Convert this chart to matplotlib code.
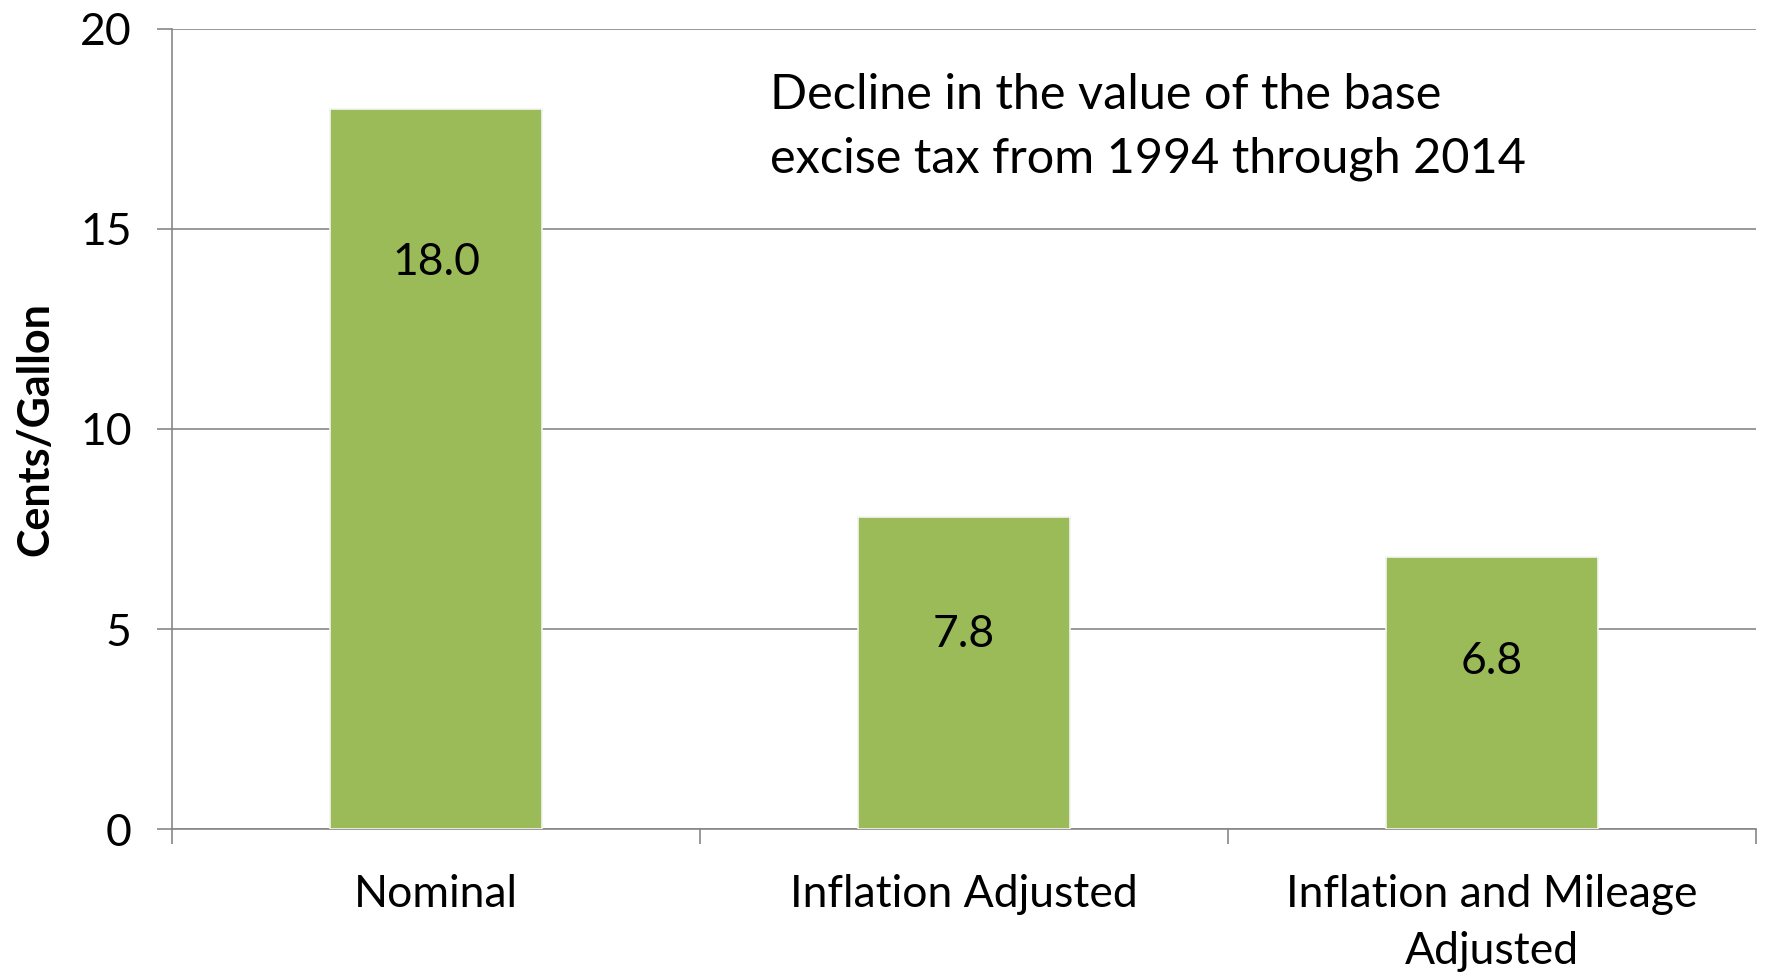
import matplotlib
matplotlib.use("Agg")
import matplotlib.pyplot as plt

categories = ["Nominal", "Inflation Adjusted", "Inflation and Mileage\nAdjusted"]
values = [18.0, 7.8, 6.8]
yticks = [0, 5, 10, 15, 20]
note = "Decline in the value of the base\nexcise tax from 1994 through 2014"

plt.rcParams["font.family"] = ["Lato", "DejaVu Sans"]

GREEN = "#9BBB59"
GRID = "#878787"
FS = 32

fig = plt.figure(figsize=(17.67, 9.72), dpi=100)
ax = fig.add_axes([0.0973, 0.147, 0.8965, 0.8235])

x = range(len(categories))
ax.bar(x, values, width=0.4, color=GREEN, edgecolor="#f4f4f4", linewidth=1.2, zorder=3)

# value labels sit a bit below the bar tops, as in the original
label_y = [14.15, 4.87, 4.2]
for xi, v, ly in zip(x, values, label_y):
    ax.text(xi, ly, f"{v:.1f}", ha="center", va="center", fontsize=FS, zorder=4)

ax.set_xlim(-0.5, len(categories) - 0.5)
ax.set_ylim(0, 20)
ax.set_yticks(yticks)
ax.set_xticks(list(x))
ax.set_xticklabels(categories, fontsize=FS, linespacing=1.5)
ax.set_xticks([i - 0.5 for i in range(len(categories) + 1)], minor=True)
ax.tick_params(axis="x", which="major", length=0, pad=32)
ax.tick_params(axis="x", which="minor", length=11, width=1.2, color=GRID)
ax.tick_params(axis="y", length=11, width=1.2, color=GRID, labelsize=FS, pad=18)

ax.yaxis.grid(True, color=GRID, linewidth=1.2, zorder=0)
ax.set_axisbelow(True)
for s in ("top", "right"):
    ax.spines[s].set_visible(False)
for s in ("left", "bottom"):
    ax.spines[s].set_color(GRID)
    ax.spines[s].set_linewidth(1.2)

ax.set_ylabel("Cents/Gallon", fontsize=31, fontweight="bold", labelpad=18)

ax.text(0.3775, 0.945, note, transform=ax.transAxes, ha="left", va="top",
        fontsize=35, linespacing=1.55)

fig.savefig("out.png", dpi=100)
